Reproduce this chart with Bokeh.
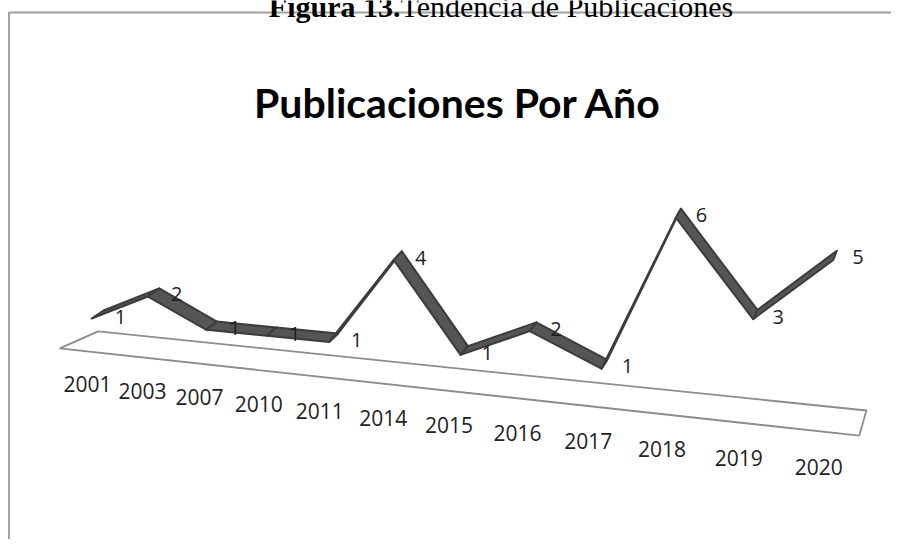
import numpy as np
from bokeh.plotting import figure
from bokeh.models import Range1d, ColumnDataSource, Label
from bokeh.core.properties import value
from bokeh.embed import file_html
from bokeh.resources import INLINE

# ---------------- data ----------------
years = ["2001", "2003", "2007", "2010", "2011", "2014",
         "2015", "2016", "2017", "2018", "2019", "2020"]
publicaciones = [1, 2, 1, 1, 1, 4, 1, 2, 1, 6, 3, 5]
chart_title = "Publicaciones Por Año"
caption_bold = "Figura 13."
caption_rest = "Tendencia de Publicaciones"

# ---------------- 3-D perspective "camera" (screen pixels) ----------------
def project(i, v, z):
    i = np.asarray(i, dtype=float)
    v = np.asarray(v, dtype=float)
    z = np.asarray(z, dtype=float)
    w = 1.0 - 0.016 * i - 0.042 * z
    X = (97.0 + 53.7 * i - 42.1 * z) / w
    Y = (341.1 + 0.4 * i - 27.1 * v + 2.8 * z) / w
    return X, Y

n = len(years)
idx = np.arange(n, dtype=float)
vals = np.asarray(publicaciones, dtype=float)

W, H = 891, 539
p = figure(width=W, height=H, output_backend="svg", toolbar_location=None,
           x_range=Range1d(0, W), y_range=Range1d(H, 0),
           min_border=0, outline_line_color=None, background_fill_color="white")
p.axis.visible = False
p.grid.visible = False

# frame border of the embedded figure
p.line(x=[8.5, 8.5, W + 10], y=[H + 10, 12, 12], line_color="#a0a0a0", line_width=2)

# caption (cut at the top, as in the source image)
p.add_layout(Label(x=400, y=6, text=caption_bold, text_align="right",
                   text_baseline="alphabetic", text_font="Liberation Serif",
                   text_font_size="30px", text_font_style="bold", text_color="black"))
p.add_layout(Label(x=400, y=6, text=caption_rest, text_align="left",
                   text_baseline="alphabetic", text_font="Liberation Serif",
                   text_font_size="30px", text_color="black"))

# chart title
p.add_layout(Label(x=457.5, y=101.5, text=chart_title, text_align="center",
                   text_baseline="alphabetic", text_font="Lato",
                   text_font_size="41px", text_font_style="bold", text_color="black"))

# floor (value 0 plane)
i0, i1 = -0.33, 11.34
fx, fy = project([i0, i1, i1, i0], [0, 0, 0, 0], [-0.5, -0.5, 0.5, 0.5])
p.patch(x=list(fx), y=list(fy), fill_color="white", line_color="#8c8c8c", line_width=1.8)

# ribbon (3-D line)
cx, cy = project(idx, vals, np.zeros(n))
t = idx / (n - 1)
dx = -12.0 + 8.5 * t
dy = 8.0 + 1.3 * t
ax_, ay_ = cx - dx / 2, cy - dy / 2
bx_, by_ = cx + dx / 2, cy + dy / 2
xs, ys = [], []
for k in range(n - 1):
    xs.append([ax_[k], ax_[k + 1], bx_[k + 1], bx_[k]])
    ys.append([ay_[k], ay_[k + 1], by_[k + 1], by_[k]])
p.patches(xs=xs, ys=ys, fill_color="#555555", line_color="#3c3c3c",
          line_width=2, line_join="round")

# data labels
lab = ColumnDataSource(dict(x=cx + 23, y=cy + 2, text=[str(v) for v in publicaciones]))
p.text(x="x", y="y", text="text", source=lab, text_align="center",
       text_baseline="middle", text_font=value("Open Sans"),
       text_font_size="20px", text_color="#1e1e1e")

# category labels below the floor
lx, ly = project(idx, np.zeros(n), np.full(n, 0.5))
ylab = ColumnDataSource(dict(x=lx + 9.4 - 1.95 * idx, y=ly + 34, text=years))
p.text(x="x", y="y", text="text", source=ylab, text_align="center",
       text_baseline="middle", text_font=value("Open Sans"),
       text_font_size="21px", text_color="#222222")

open("out.html", "w").write(file_html(p, INLINE))
